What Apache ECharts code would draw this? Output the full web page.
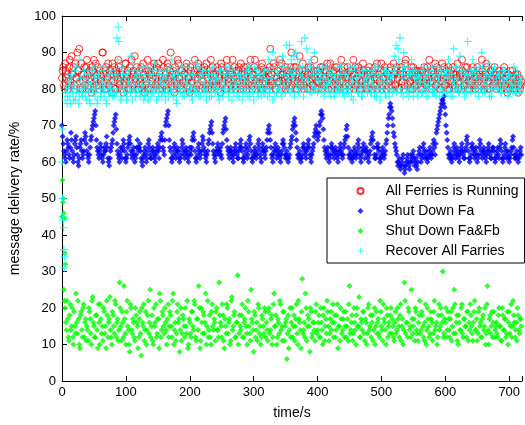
<!DOCTYPE html>
<html><head><meta charset="utf-8">
<script src="https://cdn.jsdelivr.net/npm/echarts@6/dist/echarts.min.js"></script>
<style>html,body{margin:0;padding:0;background:#fff}#c{width:525px;height:425px}</style>
</head><body><div id="c"></div>
<script>
const step = 2; // each array holds every other second; "odd" arrays start at t=1
const xTicks = [0,100,200,300,400,500,600,700];
const legendNames = ["All Ferries is Running","Shut Down Fa","Shut Down Fa&Fb","Recover All Farries"];

const redVals = [
83,86,80,85,84,82,88,81,84,86,80,83,90,85,82,87,80,84,81,86,
84,80,83,79,85,88,82,81,86,80,84,83,90,82,85,80,87,81,84,79,
82,86,80,84,88,81,83,85,79,82,87,84,80,86,83,81,85,89,82,84,
80,83,86,81,84,79,82,88,85,80,84,83,87,81,86,82,80,85,83,88,
81,84,80,86,83,90,82,85,79,84,81,87,83,80,85,82,84,86,81,83,
79,85,82,84,88,80,83,86,81,84,82,85,80,87,83,81,84,80,86,82,
84,81,85,83,79,86,82,84,80,88,83,85,81,84,82,86,80,83,85,82,
87,83,80,84,82,86,81,85,83,80,84,88,82,85,81,83,86,80,84,82,
83,85,81,91,84,82,86,80,83,85,82,84,87,81,83,80,85,82,84,86,
81,84,82,86,80,83,89,82,85,81,84,83,80,86,82,84,81,85,83,80,
85,82,84,80,86,83,81,85,82,84,87,80,83,85,82,86,81,84,80,83,
82,86,81,84,83,80,85,82,88,84,81,83,86,80,84,82,85,81,83,84,
80,84,82,85,81,86,83,80,84,82,87,81,85,83,80,84,82,86,81,83,
84,81,86,83,80,85,82,84,81,88,83,85,82,80,84,86,81,83,85,82,
83,80,85,82,84,81,86,83,80,85,82,84,87,81,83,85,80,84,82,86,
81,85,83,80,84,82,86,81,84,83,80,85,82,88,83,81,84,86,82,80,
84,82,85,81,83,86,80,84,82,85,81,83,87,80,84,82,85,81,83,84,
80,83,85,82,84,81,86,83,80,84,82,85,81,83,80,84,82,79,83,81];
const redValsOdd = [
85,81,87,83,80,86,82,89,84,81,87,83,85,91,80,84,82,86,83,88,
81,85,82,86,80,83,87,84,81,85,82,90,84,80,86,83,81,85,82,87,
84,80,85,83,86,82,80,84,81,87,83,85,82,80,88,84,81,83,86,80,
85,82,80,87,83,81,85,80,84,86,82,80,85,83,81,87,84,82,80,86,
83,80,87,82,85,81,84,80,86,82,88,83,81,85,80,84,82,87,83,80,
86,82,80,85,83,81,87,84,80,85,82,86,81,84,80,85,88,82,84,81,
82,86,80,84,87,81,85,83,80,86,82,84,80,88,83,81,85,82,86,80,
84,81,86,83,80,85,82,88,81,84,86,80,83,85,82,80,87,83,81,85,
80,84,86,82,81,87,83,80,85,82,88,80,84,82,86,81,83,85,80,90,
83,86,80,84,82,85,81,83,87,80,85,82,84,80,86,83,81,88,84,82,
80,84,86,82,81,85,83,87,80,84,82,85,81,86,83,80,84,82,88,85,
84,80,83,86,81,85,82,84,80,86,83,81,85,82,80,87,84,82,80,85,
86,82,80,84,83,81,87,84,82,85,80,83,86,81,84,82,85,80,83,87,
81,85,83,80,84,86,82,80,87,83,81,84,82,86,80,83,85,81,84,82,
85,82,80,86,83,81,84,88,82,80,85,83,81,86,84,80,82,87,83,81,
83,80,86,82,85,81,84,80,83,87,82,84,80,85,81,86,83,80,84,82,
81,86,83,80,84,82,85,81,88,83,80,84,86,82,80,85,83,81,86,82,
83,81,84,80,82,85,81,83,79,84,80,82,85,81,83,80,84,81,80,82];

const blueVals = [
70,65,62,60,66,64,61,68,63,60,65,67,62,59,64,66,61,63,68,65,
62,60,64,67,70,72,74,66,63,61,65,62,60,64,63,67,61,59,63,65,
68,71,73,65,62,60,64,61,66,63,60,62,65,67,63,61,64,60,62,66,
63,65,61,59,62,64,60,63,66,62,61,64,62,60,63,65,61,66,68,64,
62,70,72,74,66,63,60,62,65,61,64,63,60,62,66,63,61,64,62,60,
64,62,66,68,63,60,62,65,61,63,67,64,62,60,63,66,69,71,65,62,
60,63,65,62,64,61,68,70,72,66,63,61,64,62,60,63,65,62,61,64,
66,63,60,62,65,61,64,67,63,60,62,64,61,63,66,62,60,65,63,61,
64,68,70,66,62,60,63,65,61,64,62,60,63,66,64,61,63,60,62,65,
67,70,72,68,64,61,63,60,62,65,63,61,64,66,62,60,63,65,68,70,
66,68,71,74,72,66,63,61,64,60,62,65,63,61,64,62,60,63,65,62,
62,65,67,70,64,61,63,60,62,64,61,63,66,62,60,63,65,61,64,62,
60,63,66,68,64,61,62,65,63,60,62,64,61,63,66,70,73,76,74,70,
67,64,62,59,61,58,60,62,57,59,61,60,58,62,60,63,59,61,58,62,
64,60,62,65,61,63,60,62,64,61,63,66,62,68,70,72,74,76,77,78,
73,68,64,61,63,60,62,65,61,64,62,60,63,65,62,61,64,67,63,60,
62,65,63,61,64,60,62,66,63,61,64,62,60,63,65,62,61,64,63,60,
62,64,61,66,63,60,62,65,61,63,60,62,64,67,62,61,63,60,62,64];
const blueValsOdd = [
67,63,61,63,65,62,64,66,61,62,66,64,60,61,65,63,62,66,67,63,
61,62,66,69,71,73,70,64,62,63,64,61,62,63,65,64,60,61,64,66,
70,72,69,63,61,62,63,64,65,61,61,64,66,65,62,63,62,61,64,64,
64,63,60,61,63,62,61,65,64,61,63,63,61,62,64,63,64,67,66,63,
66,71,73,70,64,61,61,64,63,62,63,61,61,64,65,62,63,63,61,62,
63,64,67,66,61,61,64,63,62,65,66,63,61,62,65,68,70,68,63,61,
62,64,63,63,62,65,69,71,69,64,62,63,63,61,62,64,63,61,63,65,
64,61,61,64,63,62,66,65,61,61,63,62,62,65,64,61,63,64,62,63,
66,69,68,64,61,62,64,63,62,63,61,62,65,65,62,62,61,61,64,66,
69,71,70,66,62,62,61,61,64,64,62,63,65,64,61,62,64,67,69,68,
67,70,73,73,69,64,62,63,62,61,64,64,62,63,63,61,62,64,63,61,
64,66,69,67,62,62,61,61,63,62,62,65,64,61,62,64,63,63,63,61,
62,65,67,66,62,61,64,64,61,61,63,62,62,65,68,72,75,75,72,68,
65,63,60,60,59,59,61,59,58,60,62,59,60,61,62,61,60,59,60,63,
62,61,64,63,62,61,61,63,62,62,65,64,65,69,71,73,75,77,76,75,
70,66,62,62,61,61,64,63,62,63,61,62,64,63,61,63,66,65,61,61,
64,64,62,63,62,61,64,65,62,63,63,61,62,64,63,61,63,64,61,61,
63,62,64,65,61,61,64,63,62,61,61,63,66,64,61,62,61,61,63,62];

const greenStartTimes = [0.5,1.5,2.5,3.5,4.5,5.5];
const greenStartVals  = [55,49,46,44.5,35,32];
const greenVals = [
45,50,22,16,22,12,18,14,20,10,15,24,13,17,9,19,12,21,16,11,
14,20,17,10,23,15,12,18,9,16,21,13,11,19,15,22,12,17,14,10,
18,13,21,16,11,27,15,19,12,17,10,22,14,8,20,13,16,11,18,15,
12,19,7,16,21,14,10,18,13,25,15,11,20,16,12,17,9,22,14,18,
13,16,10,21,15,18,12,24,14,11,19,16,8,20,13,17,12,15,22,10,
16,12,19,14,21,11,17,26,9,20,13,18,16,10,22,14,12,19,15,17,
11,20,14,27,16,12,18,9,15,21,13,17,11,23,15,19,12,16,10,18,
14,21,12,17,15,10,19,13,25,16,8,18,14,11,20,15,12,17,13,19,
16,11,20,14,18,12,24,15,10,17,13,21,15,19,11,16,6,18,14,12,
20,15,11,17,13,22,16,9,28,14,12,20,15,17,8,19,13,16,11,21,
14,18,12,16,10,20,15,13,19,11,17,14,21,16,12,18,9,15,20,13,
17,12,19,15,11,26,14,18,13,16,10,20,15,12,17,14,19,11,16,13,
21,15,12,18,14,10,19,16,13,22,15,11,17,14,20,12,16,18,13,15,
11,19,14,17,12,21,15,10,27,13,16,20,14,12,17,15,11,19,13,16,
22,14,18,12,16,10,20,15,13,17,11,19,14,16,12,21,15,18,30,13,
16,12,19,14,17,11,20,25,13,18,10,16,14,21,12,17,15,19,11,14,
18,13,16,22,14,11,19,15,12,17,14,20,13,26,10,18,15,12,19,14,
16,12,20,15,11,18,14,17,13,10,19,15,12,22,16,14,11,18,13,17];
const greenValsOdd = [
45,25,20,14,17,11,21,15,12,19,13,16,22,10,18,14,20,12,17,15,
11,19,13,22,16,12,18,14,21,10,17,15,20,13,9,18,16,23,12,19,
15,22,12,17,14,20,11,16,26,13,19,15,10,21,14,17,12,20,16,9,
17,13,20,15,11,19,14,22,16,12,18,10,15,21,13,17,24,12,19,15,
20,14,17,12,19,15,22,10,16,13,21,17,14,11,18,15,20,13,9,17,
13,19,15,22,12,17,14,20,11,16,19,13,24,15,12,18,10,21,14,16,
19,14,12,18,15,21,11,17,13,20,16,10,22,14,18,12,16,29,13,15,
18,12,16,20,13,22,15,11,17,14,19,12,16,21,13,10,18,15,20,12,
14,19,13,17,10,21,15,18,12,16,22,14,11,19,15,17,13,9,20,16,
12,18,15,21,10,17,14,19,13,16,24,11,18,15,20,12,16,14,19,13,
16,12,20,14,18,11,17,22,15,13,19,16,12,18,14,21,15,11,17,14,
19,15,12,17,21,13,16,11,20,14,18,15,23,12,16,19,13,17,10,20,
14,18,16,11,20,15,13,17,12,19,14,21,16,10,18,15,13,20,17,12,
16,13,20,15,18,11,17,14,22,16,12,19,15,25,13,17,20,14,11,18,
13,19,15,11,21,14,17,12,19,16,13,22,15,10,18,14,20,16,12,17,
20,14,17,12,19,15,13,21,16,11,18,14,20,13,17,15,12,19,16,21,
15,11,19,14,17,13,20,16,12,18,15,10,21,14,17,13,19,16,12,15,
13,18,15,11,20,14,17,12,19,16,13,21,15,18,12,16,20,14,17,15];

const cyanStartTimes = [0.5,1.5,2.5,3.5];
const cyanStartVals  = [69,45,42,31];
const cyanVals = [
60,44,34,79,76,81,78,83,80,77,85,79,82,76,88,80,78,83,81,77,
84,79,76,82,80,86,78,81,77,83,79,85,80,78,82,76,81,84,79,80,
82,78,83,94,97,80,77,86,81,79,84,78,82,80,89,77,81,83,79,85,
80,78,84,81,77,83,79,86,82,78,80,85,79,81,77,84,80,82,78,83,
81,77,85,79,82,80,88,78,83,81,76,84,80,79,86,82,78,81,83,79,
84,80,77,82,79,87,81,78,83,80,85,79,82,77,81,84,80,78,86,82,
79,83,80,77,85,81,78,82,80,84,79,86,81,77,83,80,82,78,84,81,
80,77,84,82,79,81,86,78,83,80,77,82,85,79,81,84,78,80,83,79,
82,78,85,80,83,77,81,88,79,84,80,82,78,86,81,79,83,80,92,85,
80,84,78,90,82,79,86,81,83,78,94,80,85,82,79,88,81,84,80,83,
79,85,82,80,86,78,83,81,84,79,82,87,80,78,84,81,83,79,86,80,
82,78,84,81,79,85,80,83,77,86,81,82,79,84,80,78,83,81,85,79,
81,84,79,82,80,86,78,83,81,77,84,80,82,79,85,81,78,83,80,84,
89,82,79,91,84,80,83,78,86,81,79,84,82,80,85,78,83,81,79,84,
80,83,79,86,82,78,84,81,80,85,79,83,81,78,86,82,80,84,79,82,
81,85,79,83,80,84,78,82,86,80,83,79,81,85,82,78,84,80,83,81,
79,84,82,80,85,81,78,83,80,86,82,79,84,81,83,80,78,85,82,80,
83,80,84,81,79,85,82,80,83,78,84,81,82,79,83,80,85,81,79,82];
const cyanValsOdd = [
50,36,77,80,78,82,76,84,79,81,77,86,80,78,83,79,81,85,78,80,
82,77,81,85,79,83,80,76,84,81,78,82,86,80,77,83,79,81,85,78,
80,84,79,88,93,82,78,84,80,83,77,81,85,79,82,87,80,78,84,81,
83,79,81,86,78,82,80,77,84,81,79,83,87,80,82,78,85,81,79,84,
79,83,81,78,86,80,84,79,82,77,85,81,80,83,78,84,80,82,79,86,
81,78,84,80,83,79,86,82,78,84,81,80,85,79,83,78,82,84,80,81,
83,80,78,85,82,79,84,80,86,81,78,83,80,85,79,82,81,84,78,83,
82,79,83,80,85,78,82,84,80,79,86,81,83,78,84,80,82,79,85,81,
80,88,79,83,90,86,78,82,85,80,87,79,89,81,84,92,86,82,79,88,
83,89,85,81,88,80,84,93,86,82,80,91,83,87,86,79,84,90,80,85,
82,80,84,79,83,81,86,80,82,85,78,84,81,83,79,86,80,82,84,79,
80,84,79,83,81,86,78,82,85,80,83,79,84,81,78,85,82,80,83,81,
83,79,85,81,78,84,80,86,82,79,83,81,85,78,82,84,80,83,79,85,
86,92,80,88,94,79,85,90,83,80,86,78,84,88,80,85,81,83,78,82,
82,79,85,81,83,80,78,84,82,86,80,79,84,81,83,78,85,80,82,84,
79,83,88,85,78,82,91,80,86,81,79,89,85,80,82,84,79,93,81,85,
82,88,85,79,83,81,86,80,90,79,82,85,81,87,78,84,80,82,86,81,
80,84,82,79,83,81,85,80,82,84,79,83,80,86,81,79,84,82,80,83];

function toPairs(vals, t0){ return vals.map((v,i)=>[t0 + i*step, v]); }
function startPairs(ts, vs){ return ts.map((t,i)=>[t, vs[i]]); }
function seriesData(even, odd, st, sv){
  let d = toPairs(even, 0).concat(toPairs(odd, 1));
  if (st) d = startPairs(st, sv).concat(d);
  return d;
}

const plus = 'path://M3,0h1v3h3v1h-3v3h-1v-3h-3v-1h3z';
const diamond = 'path://M1,0L2,1L1,2L0,1Z';
const font = 'Liberation Sans, Arial, Helvetica, sans-serif';

const chart = echarts.init(document.getElementById('c'), null, {renderer:'canvas'});
chart.setOption({
  animation:false,
  backgroundColor:'#fff',
  textStyle:{fontFamily:font},
  grid:{left:62, top:16, width:466, height:370, containLabel:false},
  xAxis:[{
    type:'value', min:0, max:720, interval:100, position:'bottom',
    name:'time/s', nameLocation:'middle', nameGap:25,
    nameTextStyle:{fontSize:14, color:'#000', fontFamily:font},
    axisLine:{lineStyle:{color:'#000', width:1}},
    axisTick:{inside:true, length:5, lineStyle:{color:'#000'}},
    axisLabel:{fontSize:13, color:'#000', margin:5, fontFamily:font,
      formatter:v=> xTicks.includes(v) ? String(v) : ''},
    splitLine:{show:false}
  },{
    type:'value', min:0, max:720, interval:100, position:'top',
    axisLine:{lineStyle:{color:'#000', width:1}},
    axisTick:{inside:true, length:5, lineStyle:{color:'#000'}},
    axisLabel:{show:false}, splitLine:{show:false}
  }],
  yAxis:{
    type:'value', min:0, max:100, interval:10,
    name:'message delivery rate/%', nameLocation:'middle', nameGap:40,
    nameTextStyle:{fontSize:14, color:'#000', fontFamily:font},
    axisLine:{show:true, lineStyle:{color:'#000', width:1}},
    axisTick:{show:true, inside:true, length:5, lineStyle:{color:'#000'}},
    axisLabel:{fontSize:13, color:'#000', margin:6, fontFamily:font},
    splitLine:{show:false}
  },
  legend:{
    orient:'vertical', left:327, top:178,
    padding:[6,6,5,28], itemGap:6, itemWidth:40, itemHeight:6,
    borderColor:'#000', borderWidth:1, backgroundColor:'#fff',
    textStyle:{fontSize:14, color:'#000', fontFamily:font},
    data:legendNames
  },
  series:[
    {name:legendNames[0], type:'scatter', symbol:'circle', symbolSize:7,
     itemStyle:{color:'none', borderColor:'#ff0000', borderWidth:1},
     data:seriesData(redVals, redValsOdd)},
    {name:legendNames[1], type:'scatter', symbol:diamond, symbolSize:6,
     itemStyle:{color:'#0000ff'},
     data:seriesData(blueVals, blueValsOdd)},
    {name:legendNames[2], type:'scatter', symbol:diamond, symbolSize:6,
     itemStyle:{color:'#00ff00'},
     data:seriesData(greenVals, greenValsOdd, greenStartTimes, greenStartVals)},
    {name:legendNames[3], type:'scatter', symbol:plus, symbolSize:8,
     itemStyle:{color:'#00ffff'},
     data:seriesData(cyanVals, cyanValsOdd, cyanStartTimes, cyanStartVals)}
  ]
});
</script></body></html>
